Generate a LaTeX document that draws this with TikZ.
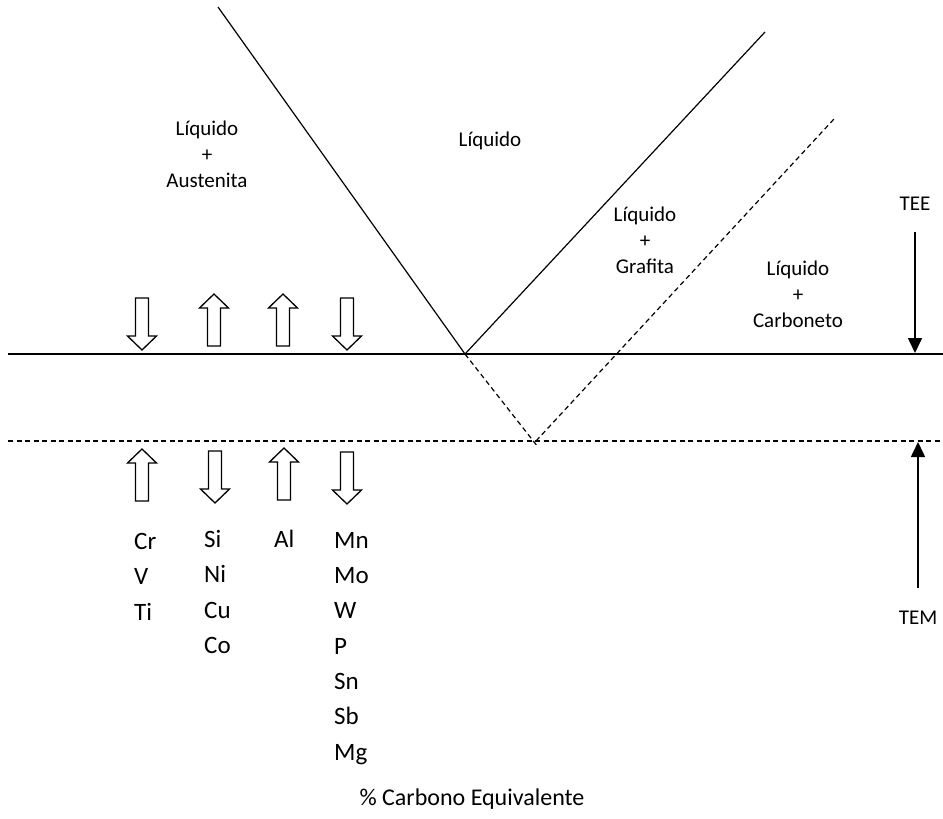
\documentclass[tikz,border=0pt]{standalone}
\usepackage{fontspec}
\setmainfont{Carlito}
\usetikzlibrary{arrows.meta}
\begin{document}
\begin{tikzpicture}[x=1pt,y=-1pt,
  phase/.style={font=\fontsize{21}{26}\selectfont, align=center, inner sep=0pt},
  elem/.style={font=\fontsize{25}{35.3}\selectfont, align=left, inner sep=0pt, anchor=north west},
  boundary/.style={line width=1.2pt},
  metastable/.style={line width=1.2pt, dash pattern=on 5pt off 3.5pt},
  shift arrow/.style={line width=1.6pt, -{Triangle[width=14pt,length=15pt]}},
  hollow/.style={draw, line width=1.3pt, fill=white, line join=miter},
  hollow up/.pic={\draw[hollow] (0,0) -- (14.5,14) -- (6.5,14) -- (6.5,52) -- (-6.5,52) -- (-6.5,14) -- (-14.5,14) -- cycle;},
  hollow down/.pic={\draw[hollow] (0,0) -- (14.5,-14) -- (6.5,-14) -- (6.5,-52) -- (-6.5,-52) -- (-6.5,-14) -- (-14.5,-14) -- cycle;}
]
\useasboundingbox (0,0) rectangle (943,819);

% stable (solid) and metastable (dashed) lines
\coordinate (eut) at (465,354);
\coordinate (meta) at (536,441);
\draw[boundary] (218,7) -- (eut) -- (765,32);
\draw[boundary] (8,354) -- (943,354);
\draw[metastable] (8,441) -- (943,441);
\draw[metastable] (eut) -- (538,447);
\draw[metastable] (meta) -- (834,119);

% phase fields (base anchor sits on the last line)
\node[phase, anchor=base] (la) at (207,187) {Líquido\\+\\Austenita};
\node[phase, anchor=base] (liq) at (490,146) {Líquido};
\node[phase, anchor=base] (lg) at (645,273) {Líquido\\+\\Grafita};
\node[phase, anchor=base] (lc) at (798,327) {Líquido\\+\\Carboneto};

% eutectic temperatures
\node[phase, anchor=base] (tee) at (915,210) {TEE};
\node[phase, anchor=base] (tem) at (918,624) {TEM};
\coordinate (teeStart) at (915,232);
\coordinate (teeTip) at (915,353);
\coordinate (temStart) at (918,588);
\coordinate (temTip) at (918,442);
\draw[shift arrow] (teeStart) -- (teeTip);
\draw[shift arrow] (temStart) -- (temTip);

% effect of the elements on TEE
\pic at (142,350) {hollow down};
\pic at (214,294) {hollow up};
\pic at (283,294) {hollow up};
\pic at (347,350) {hollow down};
% effect of the elements on TEM
\pic at (142,449) {hollow up};
\pic at (215,503) {hollow down};
\pic at (284,448) {hollow up};
\pic at (347,504) {hollow down};

% alloying elements
\node[elem] (g1) at (134,533) {Cr\\V\\Ti};
\node[elem] (g2) at (204,530) {Si\\Ni\\Cu\\Co};
\node[elem] (g3) at (274,530) {Al};
\node[elem] (g4) at (334,532) {Mn\\Mo\\W\\P\\Sn\\Sb\\Mg};

% axis title
\node[font=\fontsize{24}{28}\selectfont, anchor=base, inner sep=0pt] (axis) at (472,805) {\% Carbono Equivalente};
\end{tikzpicture}
\end{document}
